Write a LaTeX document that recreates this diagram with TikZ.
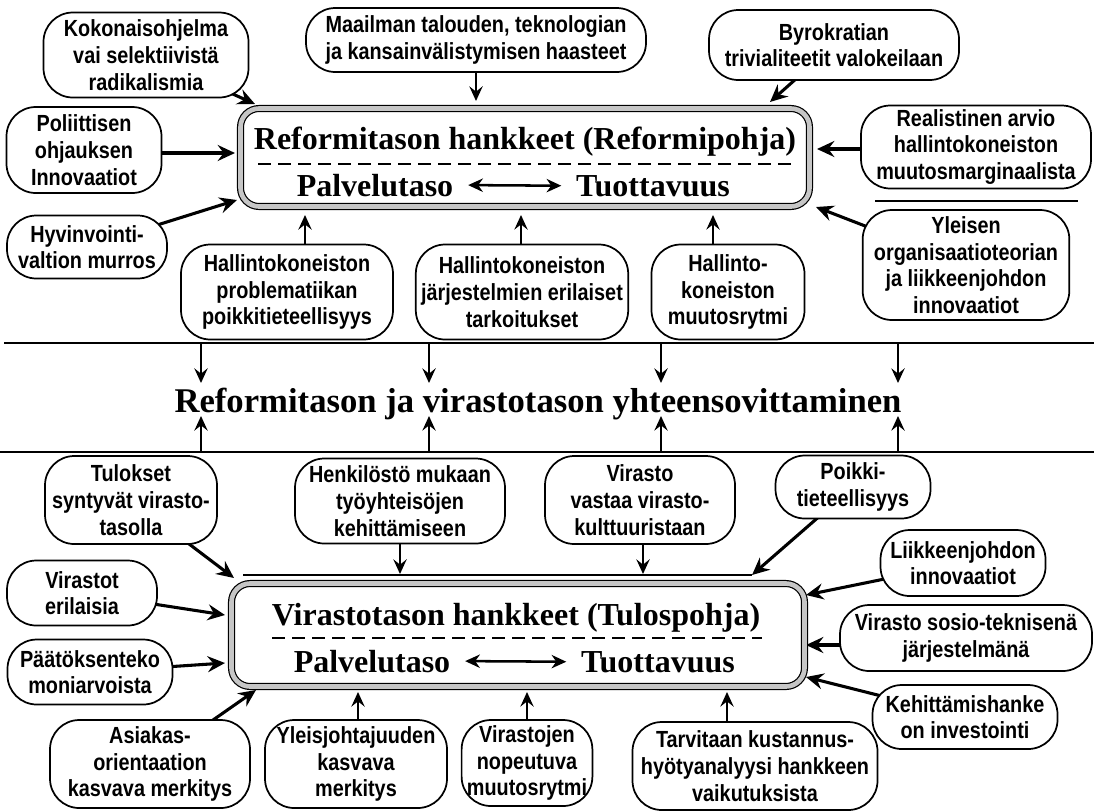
\documentclass[tikz,border=0pt]{standalone}
\usepackage{fontspec}
\setmainfont{Liberation Serif}
\newfontfamily\bubfont{Liberation Sans}[FakeStretch=0.85]
\usetikzlibrary{arrows.meta,calc,backgrounds}
\begin{document}
\begin{tikzpicture}[x=0.75pt,y=-0.75pt,
  bub/.style={draw, fill=white, line width=1.3pt, rounded corners=22pt, align=center,
    inner xsep=4pt, inner ysep=0pt, font=\bubfont\bfseries\fontsize{17.5}{20}\selectfont},
  arr/.style={-{Stealth[length=13pt,width=12pt,inset=4.5pt]}, line width=2.3pt},
  varr/.style={-{Stealth[length=11pt,width=10pt,inset=4pt]}, line width=1.3pt},
  darr/.style={{Stealth[length=11pt,width=10pt,inset=3.5pt]}-{Stealth[length=11pt,width=10pt,inset=3.5pt]}, line width=1.9pt},
  bigbox/.style={draw=black, line width=0.9pt, double=gray!45, double distance=3.5pt,
    rounded corners=14pt, fill=white, inner sep=0pt},
  ttl/.style={font=\bfseries\fontsize{24}{28}\selectfont, inner sep=0pt, anchor=base},
  sub/.style={font=\bfseries\fontsize{24}{28}\selectfont, inner ysep=0pt, inner xsep=11pt, anchor=base},
  dsh/.style={line width=1.4pt, dash pattern=on 10pt off 5pt},
  rule/.style={line width=1.3pt},
]
\useasboundingbox (0,0) rectangle (1094,811);

% ---------- main boxes ----------
\node[bigbox, minimum width=426.75pt, minimum height=73.5pt] (top) at (525,157.5) {};
\node[ttl] (ttop) at (525,149) {Reformitason hankkeet (Reformipohja)};
\coordinate (dtl) at (258,164);
\coordinate (dtr) at (793,164);
\draw[dsh] (dtl) -- (dtr);
\node[sub] (p1) at (375,196) {Palvelutaso};
\node[sub] (q1) at (653,196) {Tuottavuus};
\draw[darr] (p1.east) -- (q1.west);

\node[bigbox, minimum width=429.75pt, minimum height=77.25pt] (bot) at (518,635) {};
\node[ttl] (tbot) at (516,625) {Virastotason hankkeet (Tulospohja)};
\coordinate (dbl) at (272,638);
\coordinate (dbr) at (762,638);
\draw[dsh] (dbl) -- (dbr);
\node[sub] (p2) at (372,672) {Palvelutaso};
\node[sub] (q2) at (658,672) {Tuottavuus};
\draw[darr] (p2.east) -- (q2.west);

% ---------- middle band ----------
\coordinate (l1a) at (4,343);  \coordinate (l1b) at (1094,343);
\coordinate (l2a) at (0,452);  \coordinate (l2b) at (1094,452);
\draw[rule] (l1a) -- (l1b);
\draw[rule] (l2a) -- (l2b);
\node[font=\bfseries\fontsize{26}{30}\selectfont, inner sep=0pt, anchor=base] (mid) at (538,412)
  {Reformitason ja virastotason yhteensovittaminen};
\foreach \xx/\n in {201/1,429/2,661/3,898/4}{
  \coordinate (mu\n) at (\xx,343); \coordinate (mut\n) at (\xx,383);
  \coordinate (md\n) at (\xx,452); \coordinate (mdt\n) at (\xx,416);
  \draw[varr] (mu\n) -- (mut\n);
  \draw[varr] (md\n) -- (mdt\n);
}

% ---------- extra rules ----------
\coordinate (r6a) at (875,201); \coordinate (r6b) at (1078,201);
\draw[line width=1.2pt] (r6a) -- (r6b);
\coordinate (rba) at (243,575); \coordinate (rbb) at (752,575);
\draw[line width=1.2pt] (rba) -- (rbb);

% ---------- bubbles (top half) ----------
\node[bub, minimum width=153.75pt, minimum height=63.75pt] (k1) at (146,55) {Kokonaisohjelma\\vai selektiivistä\\radikalismia};
\node[bub, minimum width=255pt, minimum height=48pt] (k2) at (476,40) {Maailman talouden, teknologian\\ja kansainvälistymisen haasteet};
\node[bub, minimum width=187.5pt, minimum height=52.5pt] (k3) at (834,45) {Byrokratian\\trivialiteetit valokeilaan};
\node[bub, minimum width=116.25pt, minimum height=64.5pt] (k4) at (84,150) {Poliittisen\\ohjauksen\\Innovaatiot};
\node[bub, minimum width=120pt, minimum height=47.25pt] (k5) at (87,247) {Hyvinvointi-\\valtion murros};
\node[bub, minimum width=172.5pt, minimum height=62.25pt] (k6) at (976,147) {Realistinen arvio\\hallintokoneiston\\muutosmarginaalista};
\node[bub, minimum width=155pt, minimum height=82.5pt] (k7) at (966,265) {Yleisen\\organisaatioteorian\\ja liikkeenjohdon\\innovaatiot};
\node[bub, minimum width=159pt, minimum height=71.25pt] (k8) at (287,292) {Hallintokoneiston\\problematiikan\\poikkitieteellisyys};
\node[bub, minimum width=159pt, minimum height=71.25pt] (k9) at (522,292) {Hallintokoneiston\\järjestelmien erilaiset\\tarkoitukset};
\node[bub, minimum width=114.75pt, minimum height=71.25pt] (k10) at (728,292) {Hallinto-\\koneiston\\muutosrytmi};

% ---------- bubbles (bottom half) ----------
\node[bub, minimum width=129pt, minimum height=66pt] (k11) at (131,500) {Tulokset\\syntyvät virasto-\\tasolla};
\node[bub, minimum width=157.5pt, minimum height=63.75pt] (k12) at (400,501) {Henkilöstö mukaan\\työyhteisöjen\\kehittämiseen};
\node[bub, minimum width=142.5pt, minimum height=66pt] (k13) at (640,500) {Virasto\\vastaa virasto-\\kulttuuristaan};
\node[bub, minimum width=116.25pt, minimum height=47.25pt] (k14) at (853,487) {Poikki-\\tieteellisyys};
\node[bub, minimum width=112.5pt, minimum height=48.75pt] (k15) at (82,593) {Virastot\\erilaisia};
\node[bub, minimum width=123.75pt, minimum height=48.75pt] (k16) at (90,672) {Päätöksenteko\\moniarvoista};
\node[bub, minimum width=150pt, minimum height=66pt] (k17) at (150,764) {Asiakas-\\orientaation\\kasvava merkitys};
\node[bub, minimum width=136.5pt, minimum height=66pt] (k18) at (356,764) {Yleisjohtajuuden\\kasvava\\merkitys};
\node[bub, minimum width=97.5pt, minimum height=64.5pt] (k19) at (527,763) {Virastojen\\nopeutuva\\muutosrytmi};
\node[bub, minimum width=183.75pt, minimum height=66pt] (k20) at (755,766) {Tarvitaan kustannus-\\hyötyanalyysi hankkeen\\vaikutuksista};
\node[bub, minimum width=123.75pt, minimum height=49.5pt] (k21) at (963,563) {Liikkeenjohdon\\innovaatiot};
\node[bub, minimum width=189pt, minimum height=49.5pt] (k22) at (966,638) {Virasto sosio-teknisenä\\järjestelmänä};
\node[bub, minimum width=138.75pt, minimum height=48pt] (k23) at (965,717) {Kehittämishanke\\on investointi};

% ---------- arrow targets ----------
\coordinate (t1) at (255,104);
\coordinate (t2) at (476,101);
\coordinate (t3) at (770,102);
\coordinate (t4) at (235,153);
\coordinate (t5) at (237,200);
\coordinate (t6) at (817,149);
\coordinate (t7) at (816,207);
\coordinate (t8) at (305,215);
\coordinate (t9) at (521,215);
\coordinate (t10) at (713,215);
\coordinate (t11) at (234,578);
\coordinate (t12) at (400,574);
\coordinate (t13) at (643,574);
\coordinate (t14) at (752,575);
\coordinate (t15) at (225,615);
\coordinate (t16) at (225,663);
\coordinate (t17) at (256,690);
\coordinate (t18) at (358,692);
\coordinate (t19) at (527,692);
\coordinate (t20) at (727,692);
\coordinate (t21) at (806,595);
\coordinate (t22) at (806,645);
\coordinate (t23) at (806,677);

\begin{scope}[on background layer]
\draw[arr] (k1.center) -- (t1);
\draw[varr] (k2 -| t2) -- (t2);
\draw[arr] (k3.center) -- (t3);
\draw[arr] (k4 |- t4) -- (t4);
\draw[arr] (k5.center) -- (t5);
\draw[arr] (k6 |- t6) -- (t6);
\draw[arr] (k7.center) -- (t7);
\draw[varr] (k8 -| t8) -- (t8);
\draw[varr] (k9 -| t9) -- (t9);
\draw[varr] (k10 -| t10) -- (t10);
\draw[arr] (k11.center) -- (t11);
\draw[varr] (k12 -| t12) -- (t12);
\draw[varr] (k13 -| t13) -- (t13);
\draw[arr] (k14.center) -- (t14);
\draw[arr] (k15.center) -- (t15);
\draw[arr] (k16.center) -- (t16);
\draw[arr] (k17.center) -- (t17);
\draw[varr] (k18 -| t18) -- (t18);
\draw[varr] (k19 -| t19) -- (t19);
\draw[varr] (k20 -| t20) -- (t20);
\draw[arr] (k21.center) -- (t21);
\draw[arr] (k22 |- t22) -- (t22);
\draw[arr] (k23.center) -- (t23);
\end{scope}
\end{tikzpicture}
\end{document}
